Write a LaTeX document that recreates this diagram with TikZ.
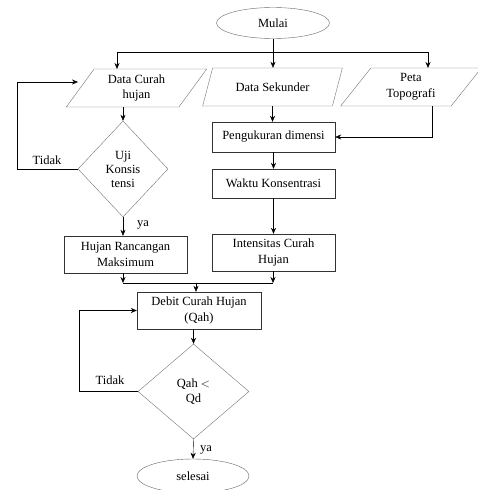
\documentclass[tikz,border=0pt]{standalone}
\usepackage{fontspec}
\setmainfont{Liberation Serif}
\usepackage{tikz}
\usetikzlibrary{arrows.meta,shapes.geometric,positioning}

\begin{document}
\begin{tikzpicture}[x=1pt,y=-1pt,
  >={Stealth[length=6pt,width=5pt]},
  txt/.style={font=\fontsize{12.5}{15.5}\selectfont,align=center},
  terminal/.style={txt,ellipse,draw=black!60,minimum width=113pt,minimum height=31pt,inner sep=0pt},
  databox/.style={txt,trapezium,trapezium left angle=55,trapezium right angle=125,
    trapezium stretches=true,draw=black!55,minimum width=141pt,minimum height=38pt,inner sep=0pt},
  procbox/.style={txt,rectangle,draw=black!80,minimum width=123pt,inner sep=0pt},
  cekbox/.style={txt,diamond,draw=black!55,inner sep=0pt}]
  \useasboundingbox(0,0)rectangle(478,490);

  \node[terminal](mulai)at(273,23){Mulai};
  \node[databox](dch)at(136.5,88){Data Curah\\hujan};
  \node[databox](dsek)at(272.5,87){Data Sekunder};
  \node[databox](peta)at(411,87){Peta\\Topografi};
  \node[cekbox,minimum width=90pt,minimum height=96pt,
    font=\fontsize{12.5}{14}\selectfont](uji)at(123,169){Uji\\Konsis\\tensi};
  \node[procbox,minimum height=37pt](hrm)at(125.5,254.5){Hujan Rancangan\\Maksimum};
  \node[procbox,minimum height=30pt](peng)at(273.5,137){Pengukuran dimensi};
  \node[procbox,minimum height=29pt](waktu)at(273.5,183.5){Waktu Konsentrasi};
  \node[procbox,minimum height=37pt](inten)at(273.5,252.5){Intensitas Curah\\Hujan};
  \node[procbox,minimum width=124pt,minimum height=37pt](debit)at(199,310.5){Debit Curah Hujan\\(Qah)};
  \node[cekbox,minimum width=111pt,minimum height=95pt](qah)at(193.5,391.5){Qah $<$\\Qd};
  \node[terminal,minimum width=112pt,minimum height=34pt](selesai)at(193,476){selesai};

  \coordinate(split)at(273,52);
  \coordinate(dchin)at(117,69);
  \coordinate(petain)at(428,68);
  \coordinate(loopA)at(78,82);
  \coordinate(petaout)at(432,106);
  \coordinate(mL)at(123,283);
  \coordinate(mM)at(196,283);
  \coordinate(mR)at(273,283);

  \draw[->](mulai.south)--(mulai.south|-dsek.north);
  \draw[->](split)-|(dchin);
  \draw[->](split)-|(petain);
  \draw[->](dch.south-|uji.north)--(uji.north);
  \draw[->](uji.west)--++(-61,0)|-(loopA);
  \draw[->](uji.south)--(uji.south|-hrm.north);
  \draw[->](dsek.south)--(dsek.south|-peng.north);
  \draw[->](petaout)|-(peng.east);
  \draw[->](peng)--(waktu);
  \draw[->](waktu)--(inten);
  \draw[->](hrm.south-|mL)--(mL);
  \draw[->](inten.south-|mR)--(mR);
  \draw(mL)--(mR);
  \draw[->](mM)--(mM|-debit.north);
  \draw[->](debit.south-|qah.north)--(qah.north);
  \draw[->](qah.west)--++(-59,0)|-(debit.west);
  \draw[->](qah.south)--(selesai.north);

  \node[txt](tidakA)at(47,160){Tidak};
  \node[txt](yaA)at(143,225){ya};
  \node[txt](tidakB)at(110,380){Tidak};
  \node[txt](yaB)at(206,450){ya};
\end{tikzpicture}
\end{document}
